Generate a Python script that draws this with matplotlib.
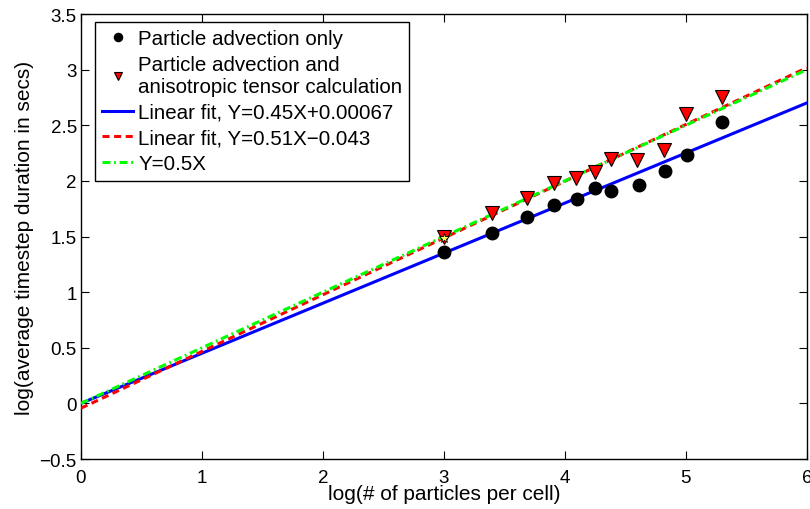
import numpy as np
import matplotlib.pyplot as plt

plt.rcParams['font.family'] = ['Liberation Sans', 'DejaVu Sans']

# data
x_adv = [3.0, 3.4, 3.69, 3.91, 4.1, 4.25, 4.38, 4.61, 4.83, 5.01, 5.3]
y_adv = [1.365, 1.53, 1.68, 1.78, 1.84, 1.935, 1.905, 1.965, 2.09, 2.23, 2.53]
x_tens = [3.0, 3.4, 3.69, 3.91, 4.09, 4.25, 4.38, 4.6, 4.82, 5.0, 5.3]
y_tens = [1.50, 1.71, 1.845, 1.985, 2.03, 2.08, 2.20, 2.185, 2.28, 2.60, 2.755]
x_star = [3.0]
y_star = [1.49]

# fit coefficients (from legend)
fit_adv = (0.45, 0.00067)
fit_tens = (0.51, -0.043)
slope_ref = 0.5

xfit = np.array([0, 6])

fig = plt.figure(figsize=(8.1, 5.1), dpi=100)
ax = fig.add_axes([0.1, 0.098, 0.896, 0.8725])

ax.plot(x_adv, y_adv, 'o', color='black', markersize=9, label='Particle advection only', zorder=4)
ax.plot(x_tens, y_tens, 'v', color='red', markeredgecolor='black', markeredgewidth=0.8,
        markersize=9.5, label='Particle advection and\nanisotropic tensor calculation', zorder=4)
ax.plot(xfit, fit_adv[0] * xfit + fit_adv[1], '-', color='#0000ff', lw=2.2,
        label='Linear fit, Y=0.45X+0.00067', zorder=3)
ax.plot(xfit, fit_tens[0] * xfit + fit_tens[1], '--', color='#ff0000', lw=2.2,
        dashes=(2.3, 1.5), label='Linear fit, Y=0.51X\u22120.043', zorder=3)
ax.plot(xfit, slope_ref * xfit, '-.', color='#00ff00', lw=2.2,
        dashes=(2.6, 1.2, 0.6, 1.2), label='Y=0.5X', zorder=3)
ax.plot(x_star, y_star, '*', color='#ffff66', markeredgecolor='black', markeredgewidth=0.6,
        markersize=7, zorder=5)

ax.set_xlim(0, 6)
ax.set_ylim(-0.5, 3.5)
ax.set_xticks(range(0, 7))
ax.set_yticks(np.arange(-0.5, 3.51, 0.5))
ax.set_yticklabels(['\u22120.5', '0', '0.5', '1', '1.5', '2', '2.5', '3', '3.5'])
ax.tick_params(direction='in', top=True, right=True, labelsize=13.5, length=6, width=0.8)
ax.tick_params(axis='x', pad=7)
ax.tick_params(axis='y', pad=3)
for s in ax.spines.values():
    s.set_linewidth(1.0)

ax.set_xlabel('log(# of particles per cell)', fontsize=15, labelpad=-1)
ax.set_ylabel('log(average timestep duration in secs)', fontsize=15, labelpad=4)

leg = ax.legend(loc='upper left', bbox_to_anchor=(0.0193, 0.982), borderaxespad=0,
                fontsize=14.8, handlelength=1.5, handletextpad=0.25,
                borderpad=0.35, labelspacing=0.33, fancybox=False, framealpha=1,
                edgecolor='black', markerscale=0.65)
leg.get_frame().set_linewidth(1.0)

plt.savefig('out.png', dpi=100)
